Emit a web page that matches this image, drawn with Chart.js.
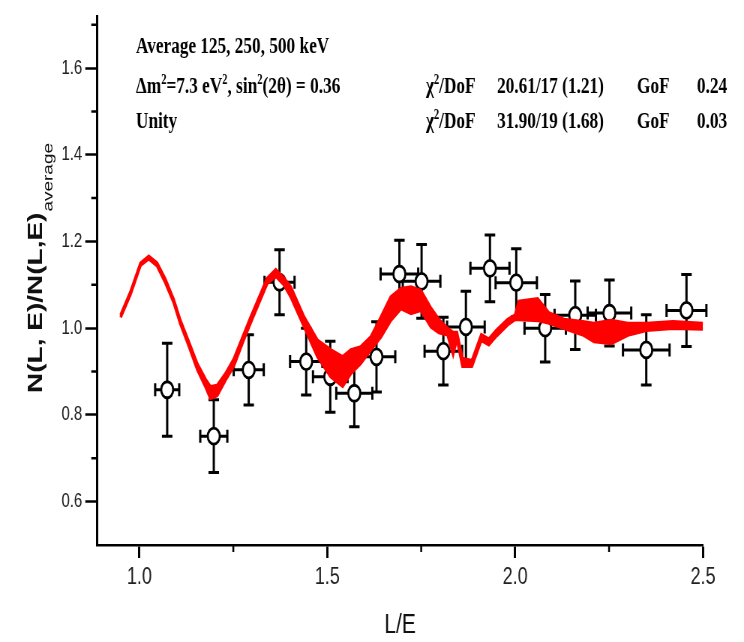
<!DOCTYPE html>
<html>
<head>
<meta charset="utf-8">
<script src="https://cdn.jsdelivr.net/npm/chart.js@4.4.0/dist/chart.umd.min.js"></script>
<style>
  html, body { margin: 0; padding: 0; background: #fff; }
  #wrap { width: 744px; height: 642px; overflow: hidden; }
  /* the original figure is squashed sideways, so draw wide and squeeze */
  #chart { display: block; width: 992px; height: 642px; transform: scaleX(0.75); transform-origin: 0 0; }
</style>
</head>
<body>
<div id="wrap"><canvas id="chart" width="992" height="642"></canvas></div>
<script>
const squeeze = 0.75;
const px = x => x / squeeze;   // page x -> canvas x

// red model curve (upper / lower edge of the fast-oscillating band)
const curveX = [0.95, 0.976, 1.003, 1.025, 1.047, 1.069, 1.091, 1.109, 1.131, 1.154, 1.176, 1.189, 1.207, 1.229, 1.251, 1.274, 1.296, 1.318, 1.34, 1.363, 1.385, 1.403, 1.438, 1.474, 1.509, 1.541, 1.563, 1.589, 1.616, 1.643, 1.669, 1.696, 1.723, 1.749, 1.776, 1.797, 1.82, 1.835, 1.845, 1.86, 1.885, 1.91, 1.93, 1.95, 1.98, 2.0, 2.01, 2.06, 2.09, 2.13, 2.18, 2.21, 2.256, 2.3, 2.35, 2.42, 2.5];
const curveUpper = [1.03, 1.083, 1.15, 1.166, 1.15, 1.113, 1.067, 1.018, 0.97, 0.918, 0.882, 0.865, 0.868, 0.895, 0.928, 0.978, 1.025, 1.07, 1.115, 1.135, 1.115, 1.095, 1.026, 0.972, 0.95, 0.934, 0.95, 0.957, 0.98, 1.026, 1.072, 1.091, 1.095, 1.087, 1.046, 1.02, 1.0, 0.99, 0.99, 0.93, 0.925, 0.985, 0.975, 0.995, 1.02, 1.03, 1.062, 1.068, 1.035, 1.02, 1.015, 1.011, 1.018, 1.011, 1.011, 1.015, 1.011];
const curveLower = [1.025, 1.077, 1.145, 1.16, 1.144, 1.105, 1.06, 1.01, 0.96, 0.905, 0.865, 0.838, 0.845, 0.88, 0.912, 0.965, 1.012, 1.058, 1.103, 1.12, 1.1, 1.072, 1.004, 0.934, 0.888, 0.866, 0.896, 0.919, 0.95, 0.98, 1.018, 1.045, 1.034, 1.041, 1.003, 0.99, 0.985, 0.94, 0.975, 0.912, 0.912, 0.972, 0.962, 0.982, 1.008, 1.02, 1.02, 1.018, 1.012, 1.0, 0.985, 0.969, 0.965, 0.984, 0.995, 1.0, 0.998];

// measured points with errors
const pointX = [1.074, 1.198, 1.291, 1.373, 1.444, 1.508, 1.572, 1.631, 1.692, 1.751, 1.809, 1.869, 1.933, 2.003, 2.08, 2.16, 2.251, 2.349, 2.456];
const pointY = [0.858, 0.751, 0.904, 1.106, 0.923, 0.888, 0.85, 0.934, 1.125, 1.108, 0.947, 1.003, 1.138, 1.105, 1.0, 1.03, 1.035, 0.95, 1.041];
const pointXErr = [0.032, 0.036, 0.04, 0.04, 0.043, 0.046, 0.048, 0.05, 0.05, 0.05, 0.05, 0.05, 0.052, 0.055, 0.055, 0.055, 0.058, 0.062, 0.053];
const pointYErr = [0.107, 0.084, 0.081, 0.075, 0.077, 0.082, 0.077, 0.081, 0.078, 0.085, 0.078, 0.082, 0.077, 0.078, 0.078, 0.079, 0.076, 0.081, 0.083];

const xTicks = [1.0, 1.5, 2.0, 2.5];
const xMinorTicks = [1.25, 1.75, 2.25];
const yTicks = [0.6, 0.8, 1.0, 1.2, 1.4, 1.6];
const yMinorTicks = [0.7, 0.9, 1.1, 1.3, 1.5, 1.7];

const xTitle = 'L/E';
const yTitleMain = 'N(L, E)/N(L,E)';
const yTitleSub = 'average';

// text block, ^ marks a one-char superscript
const noteRows = ['Average 125, 250, 500 keV', 'Δm^2=7.3 eV^2, sin^2(2θ) = 0.36', 'Unity'];
const fitLabel = ['χ^2/DoF', 'χ^2/DoF'];
const fitChi = ['20.61/17 (1.21)', '31.90/19 (1.68)'];
const fitGof = ['0.24', '0.03'];

const SANS = '"Liberation Sans", Arial, sans-serif';
const SERIF = '"Liberation Serif", "Times New Roman", serif';

function drawRich(ctx, text, x, y, size) {
  const parts = text.split(/\^(.)/);
  parts.forEach((part, i) => {
    const sup = i % 2 === 1;
    ctx.font = `bold ${sup ? Math.round(size * 0.6) : size}px ${SERIF}`;
    ctx.fillText(part, x, sup ? y - size * 0.4 : y);
    x += ctx.measureText(part).width;
  });
}

const minorTicks = {
  id: 'minorTicks',
  afterDraw(chart) {
    const { ctx, scales: { x, y } } = chart;
    ctx.save();
    ctx.strokeStyle = '#000';
    ctx.lineWidth = 2.5;
    ctx.beginPath();
    xMinorTicks.forEach(v => {
      const p = x.getPixelForValue(v);
      ctx.moveTo(p, x.top);
      ctx.lineTo(p, x.top + 7);
    });
    yMinorTicks.forEach(v => {
      const p = y.getPixelForValue(v);
      ctx.moveTo(y.right, p);
      ctx.lineTo(y.right - 8, p);
    });
    ctx.stroke();
    ctx.restore();
  }
};

const errorBars = {
  id: 'errorBars',
  beforeDatasetDraw(chart, args) {
    if (args.index !== 2) return;
    const { ctx, scales: { x, y } } = chart;
    ctx.save();
    ctx.strokeStyle = '#000';
    ctx.lineWidth = 3;
    pointX.forEach((v, i) => {
      const cx = x.getPixelForValue(v);
      const cy = y.getPixelForValue(pointY[i]);
      const x0 = x.getPixelForValue(v - pointXErr[i]);
      const x1 = x.getPixelForValue(v + pointXErr[i]);
      const y0 = y.getPixelForValue(pointY[i] - pointYErr[i]);
      const y1 = y.getPixelForValue(pointY[i] + pointYErr[i]);
      ctx.beginPath();
      ctx.moveTo(cx, y0); ctx.lineTo(cx, y1);
      ctx.moveTo(x0, cy); ctx.lineTo(x1, cy);
      ctx.moveTo(cx - 7, y0); ctx.lineTo(cx + 7, y0);
      ctx.moveTo(cx - 7, y1); ctx.lineTo(cx + 7, y1);
      ctx.moveTo(x0, cy - 6.5); ctx.lineTo(x0, cy + 6.5);
      ctx.moveTo(x1, cy - 6.5); ctx.lineTo(x1, cy + 6.5);
      ctx.stroke();
    });
    ctx.restore();
  }
};

const textBlock = {
  id: 'textBlock',
  afterDraw(chart) {
    const ctx = chart.ctx;
    ctx.save();
    ctx.fillStyle = '#000';
    ctx.textBaseline = 'alphabetic';
    ctx.textAlign = 'left';
    const rowY = [53, 93, 128];
    const size = 23;
    noteRows.forEach((t, i) => drawRich(ctx, t, px(136), rowY[i], size));
    fitLabel.forEach((t, i) => {
      drawRich(ctx, t, px(426), rowY[i + 1], size);
      drawRich(ctx, fitChi[i], px(497), rowY[i + 1], size);
      drawRich(ctx, 'GoF', px(637), rowY[i + 1], size);
      drawRich(ctx, fitGof[i], px(697), rowY[i + 1], size);
    });

    // y axis title with subscript
    ctx.translate(px(41.7), 393);
    ctx.rotate(-Math.PI / 2);
    ctx.fillStyle = '#111';
    ctx.font = `bold 28px ${SANS}`;
    ctx.fillText(yTitleMain, 0, 0);
    const w = ctx.measureText(yTitleMain).width;
    ctx.font = `19px ${SANS}`;
    ctx.fillText(yTitleSub, w + 1, 14);
    ctx.restore();
  }
};

new Chart(document.getElementById('chart'), {
  type: 'line',
  data: {
    datasets: [
      {
        data: curveX.map((x, i) => ({ x, y: curveUpper[i] })),
        borderColor: '#f00',
        backgroundColor: '#f00',
        borderWidth: 3.5,
        fill: '+1',
        pointRadius: 0,
        tension: 0
      },
      {
        data: curveX.map((x, i) => ({ x, y: curveLower[i] })),
        borderColor: '#f00',
        borderWidth: 3.5,
        fill: false,
        pointRadius: 0,
        tension: 0
      },
      {
        data: pointX.map((x, i) => ({ x, y: pointY[i] })),
        showLine: false,
        pointRadius: 8,
        pointBorderWidth: 2.8,
        pointBackgroundColor: '#fff',
        pointBorderColor: '#000'
      }
    ]
  },
  options: {
    responsive: false,
    animation: false,
    devicePixelRatio: 1,
    layout: { padding: { left: 0, right: 992 - px(703), top: 15, bottom: 0 } },
    plugins: { legend: { display: false }, tooltip: { enabled: false } },
    scales: {
      x: {
        type: 'linear',
        min: 0.888,
        max: 2.5,
        afterBuildTicks: s => { s.ticks = xTicks.map(value => ({ value })); },
        afterFit: s => { s.height = 97; },
        ticks: {
          callback: v => v.toFixed(1),
          font: { family: SANS, size: 24 },
          color: '#222',
          padding: 5,
          maxRotation: 0,
          autoSkip: false
        },
        grid: { drawOnChartArea: false, drawTicks: true, tickLength: 13, tickWidth: 3, tickColor: '#000' },
        border: { display: true, color: '#000', width: 2.5 },
        title: { display: true, text: xTitle, font: { family: SANS, size: 28 }, color: '#111', padding: { top: 0, bottom: 0 } }
      },
      y: {
        min: 0.5,
        max: 1.72,
        afterBuildTicks: s => { s.ticks = yTicks.map(value => ({ value })); },
        afterFit: s => { s.width = px(97.3); },
        ticks: {
          callback: v => v.toFixed(1),
          font: { family: SANS, size: 20 },
          color: '#222',
          padding: 4
        },
        grid: { drawOnChartArea: false, drawTicks: true, tickLength: 16, tickWidth: 2.5, tickColor: '#000' },
        border: { display: true, color: '#000', width: 3 }
      }
    }
  },
  plugins: [minorTicks, errorBars, textBlock]
});
</script>
</body>
</html>
